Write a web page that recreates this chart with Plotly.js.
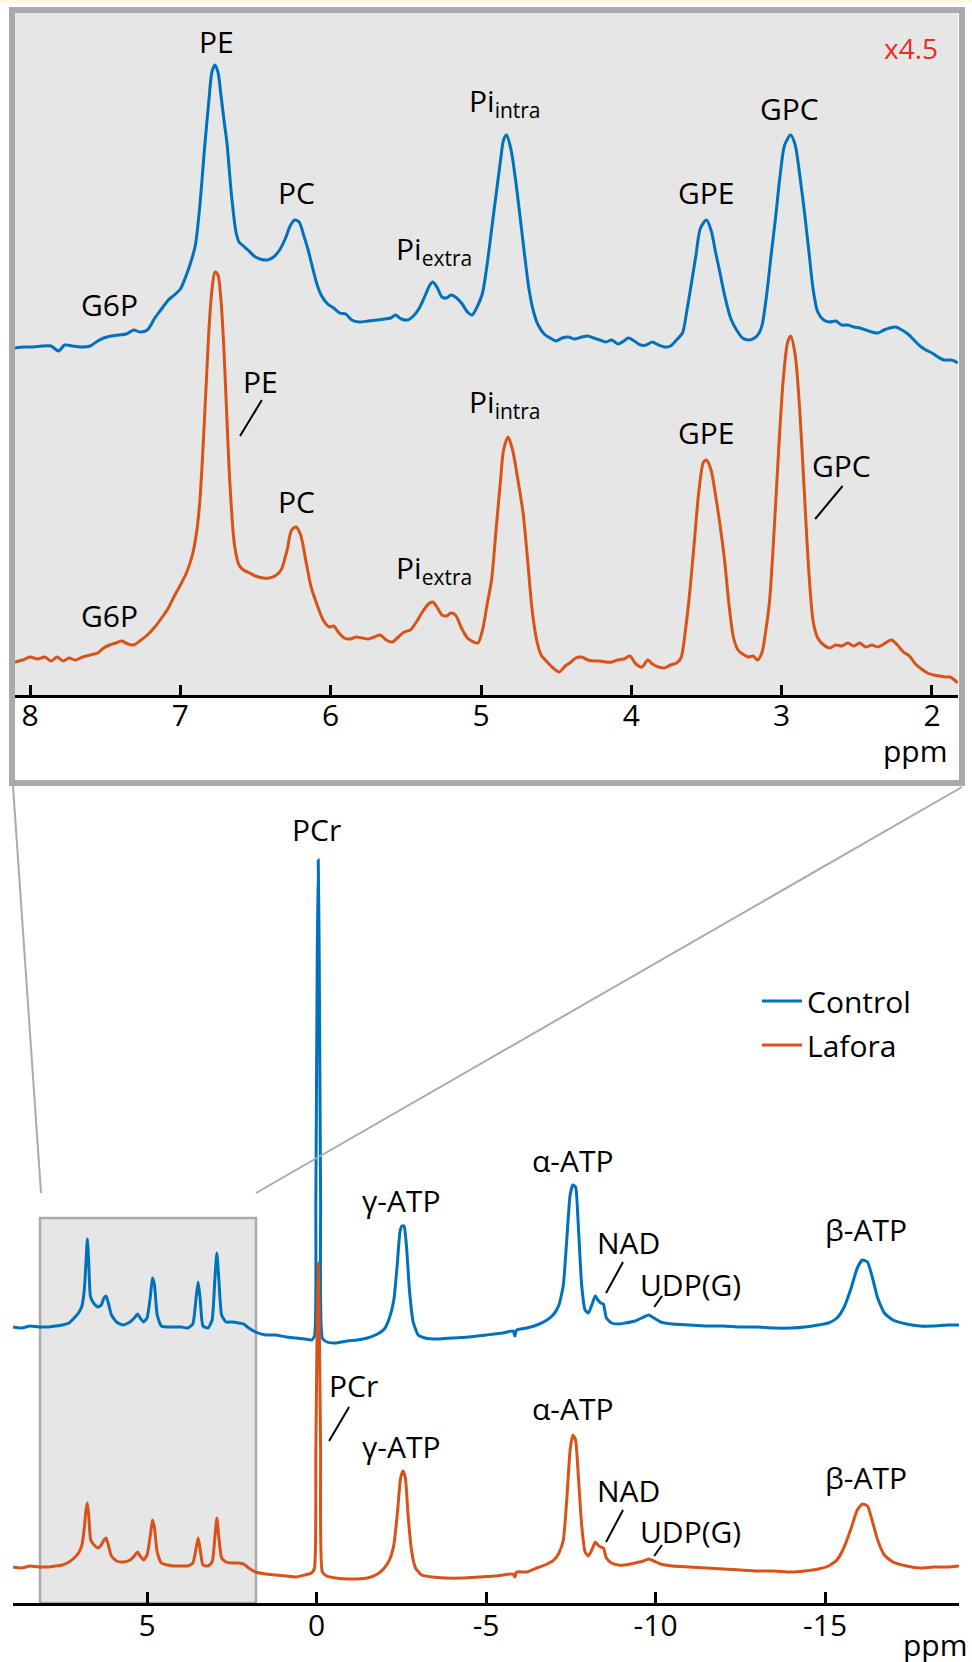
<!DOCTYPE html>
<html>
<head>
<meta charset="utf-8">
<script src="https://cdn.plot.ly/plotly-3.0.1.min.js"></script>
<style>html,body{margin:0;padding:0;background:#fff;}#chart{width:972px;height:1662px;}</style>
</head>
<body>
<div id="chart"></div>
<script>
// ---------- DATA ----------
// Inset (zoomed 8.1 – 1.8 ppm, x4.5), intensity in arbitrary units
const insetControlPpm = [
 8.10,8.04,7.98,7.92,7.86,7.81,7.77,7.72,7.66,7.60,
 7.55,7.51,7.46,7.41,7.36,7.31,7.27,7.22,7.17,7.12,
 7.08,7.04,7.00,6.96,6.93,6.90,6.87,6.84,6.81,6.79,
 6.77,6.75,6.73,6.71,6.69,6.66,6.63,6.61,6.58,6.55,
 6.51,6.47,6.42,6.38,6.34,6.30,6.27,6.24,6.21,6.18,
 6.15,6.12,6.09,6.06,6.02,5.98,5.94,5.90,5.86,5.81,
 5.75,5.69,5.64,5.60,5.57,5.53,5.49,5.45,5.41,5.37,
 5.34,5.32,5.29,5.26,5.23,5.20,5.17,5.13,5.09,5.06,
 5.02,4.99,4.96,4.93,4.90,4.87,4.85,4.83,4.80,4.77,
 4.74,4.71,4.68,4.65,4.62,4.58,4.54,4.50,4.46,4.42,
 4.38,4.33,4.29,4.25,4.21,4.17,4.13,4.09,4.05,4.02,
 3.98,3.94,3.90,3.86,3.82,3.78,3.74,3.70,3.66,3.63,
 3.60,3.57,3.54,3.50,3.47,3.44,3.41,3.38,3.34,3.30,
 3.26,3.22,3.18,3.15,3.13,3.10,3.07,3.04,3.01,2.98,
 2.94,2.91,2.88,2.85,2.82,2.79,2.76,2.72,2.68,2.64,
 2.60,2.56,2.52,2.48,2.44,2.40,2.36,2.32,2.28,2.24,
 2.20,2.16,2.12,2.08,2.04,2.00,1.96,1.92,1.88,1.85,
 1.83];
const insetControlI = [
 347,348,348,349,349,344,350,349,348,349,
 354,357,359,360,361,365,363,365,377,387,
 395,400,406,420,433,450,490,545,595,623,
 630,623,600,575,552,500,463,453,449,445,
 439,436,435,438,445,457,469,475,473,460,
 445,427,410,399,391,387,382,381,375,373,
 374,375,376,377,380,376,375,379,387,400,
 410,413,407,398,397,400,398,392,383,380,
 390,402,430,465,500,535,555,560,545,515,
 478,440,405,383,370,361,357,354,357,358,
 356,358,359,357,355,353,355,351,354,357,
 354,350,350,353,350,348,349,355,362,385,
 412,440,467,475,465,443,422,400,377,365,
 357,355,357,362,370,400,440,478,520,550,
 560,550,520,485,445,405,383,375,373,374,
 370,370,368,367,365,363,362,365,367,368,
 365,361,355,349,345,342,338,335,335,334,
 332];
const insetLaforaPpm = [
 8.10,8.05,8.00,7.95,7.90,7.86,7.82,7.78,7.74,7.70,
 7.65,7.60,7.55,7.51,7.47,7.43,7.39,7.35,7.31,7.27,
 7.22,7.17,7.12,7.08,7.04,7.00,6.96,6.92,6.89,6.87,
 6.85,6.83,6.81,6.79,6.77,6.75,6.73,6.71,6.69,6.67,
 6.64,6.61,6.58,6.54,6.50,6.45,6.41,6.37,6.33,6.29,
 6.26,6.23,6.20,6.16,6.13,6.09,6.05,6.01,5.98,5.95,
 5.91,5.87,5.83,5.79,5.75,5.71,5.67,5.63,5.59,5.55,
 5.51,5.47,5.43,5.39,5.35,5.32,5.29,5.26,5.23,5.20,
 5.17,5.13,5.09,5.05,5.02,4.99,4.96,4.93,4.90,4.87,
 4.85,4.82,4.79,4.76,4.72,4.69,4.66,4.63,4.60,4.56,
 4.52,4.48,4.44,4.41,4.37,4.33,4.29,4.25,4.21,4.17,
 4.13,4.09,4.05,4.01,3.97,3.93,3.89,3.86,3.82,3.78,
 3.74,3.70,3.67,3.64,3.61,3.58,3.55,3.52,3.50,3.47,
 3.44,3.41,3.38,3.35,3.32,3.29,3.26,3.22,3.19,3.16,
 3.13,3.11,3.08,3.05,3.02,2.99,2.96,2.94,2.91,2.88,
 2.85,2.82,2.79,2.76,2.72,2.68,2.64,2.60,2.56,2.52,
 2.48,2.44,2.40,2.36,2.32,2.27,2.23,2.19,2.15,2.11,
 2.07,2.03,1.99,1.95,1.91,1.88,1.85,1.83];
const insetLaforaI = [
 33,35,38,36,38,34,38,34,37,35,
 38,40,42,47,50,52,54,51,50,54,
 60,68,78,87,99,110,122,140,165,195,
 245,305,365,405,423,420,395,345,275,210,
 150,130,125,122,119,117,117,119,125,145,
 165,168,160,130,108,90,75,68,69,63,
 57,56,58,57,56,58,60,55,53,58,
 63,65,73,83,91,93,87,80,79,82,
 80,67,57,53,52,65,90,115,165,215,
 245,258,245,220,182,135,85,55,40,33,
 27,23,29,32,37,38,35,34,34,33,
 33,35,36,39,31,28,35,31,28,27,
 30,32,37,65,105,155,205,233,235,225,
 200,170,135,90,57,45,41,38,39,35,
 43,60,95,165,245,315,353,359,340,285,
 205,125,73,57,50,47,50,49,52,49,
 52,48,50,48,51,55,50,43,39,31,
 26,22,20,19,18,18,15,12];

// Full spectra (9 to -19 ppm)
const mainControlPpm = [
 8.95,8.70,8.45,8.20,7.95,7.70,7.50,7.30,7.15,7.02,
 6.92,6.85,6.80,6.76,6.72,6.67,6.58,6.45,6.35,6.27,
 6.21,6.14,6.05,5.90,5.70,5.50,5.35,5.28,5.20,5.10,
 5.00,4.90,4.84,4.78,4.70,4.58,4.40,4.20,4.00,3.80,
 3.65,3.55,3.49,3.43,3.35,3.20,3.08,3.00,2.94,2.88,
 2.80,2.67,2.50,2.30,2.15,2.00,1.80,1.50,1.20,0.90,
 0.60,0.35,0.15,0.06,0.02,-0.02,-0.05,-0.08,-0.12,-0.17,
 -0.30,-0.55,-0.90,-1.20,-1.50,-1.80,-2.00,-2.15,-2.28,-2.38,
 -2.46,-2.52,-2.58,-2.65,-2.74,-2.85,-3.00,-3.20,-3.60,-4.00,
 -4.50,-5.00,-5.50,-5.80,-5.85,-5.90,-6.20,-6.50,-6.80,-7.00,
 -7.15,-7.28,-7.38,-7.48,-7.56,-7.64,-7.72,-7.82,-7.92,-8.02,
 -8.12,-8.22,-8.30,-8.38,-8.46,-8.55,-8.70,-8.90,-9.10,-9.40,
 -9.65,-9.80,-9.95,-10.15,-10.50,-11.00,-11.50,-12.00,-12.50,-13.00,
 -13.50,-14.00,-14.40,-14.80,-15.10,-15.35,-15.55,-15.75,-15.95,-16.10,
 -16.25,-16.40,-16.55,-16.75,-17.00,-17.40,-17.80,-18.20,-18.60,-18.95];
const mainControlI = [
 276,275,277,276,276,277,278,280,285,290,
 297,313,341,364,341,307,300,296,298,305,
 307,300,288,281,278,281,286,289,285,281,
 285,307,325,318,288,277,276,276,276,275,
 279,306,321,303,277,275,283,323,350,323,
 288,281,281,280,279,275,271,268,268,266,
 265,264,263,267,403,643,743,643,403,265,
 261,260,262,263,265,269,274,285,303,338,
 371,377,377,358,313,281,268,265,264,265,
 266,268,270,272,267,273,275,278,283,289,
 298,318,363,408,418,416,378,318,293,290,
 298,307,303,300,299,285,280,279,280,282,
 286,288,285,281,279,278,277,277,276,276,
 275,275,276,278,280,285,295,313,335,343,
 341,325,305,290,283,279,277,277,278,278];
const mainLaforaPpm = [
 8.95,8.70,8.45,8.20,7.95,7.70,7.50,7.30,7.15,7.02,
 6.92,6.85,6.80,6.76,6.72,6.66,6.56,6.45,6.35,6.27,
 6.21,6.14,6.05,5.90,5.70,5.50,5.35,5.28,5.20,5.10,
 5.00,4.90,4.84,4.78,4.70,4.58,4.40,4.20,4.00,3.80,
 3.65,3.55,3.49,3.43,3.35,3.20,3.08,3.00,2.94,2.88,
 2.80,2.67,2.50,2.30,2.15,2.00,1.80,1.50,1.20,0.90,
 0.60,0.35,0.15,0.06,0.02,-0.02,-0.05,-0.08,-0.12,-0.17,
 -0.30,-0.55,-0.90,-1.20,-1.50,-1.80,-2.00,-2.15,-2.28,-2.38,
 -2.48,-2.55,-2.62,-2.70,-2.80,-2.92,-3.10,-3.40,-3.80,-4.30,
 -4.80,-5.30,-5.80,-5.85,-5.90,-6.20,-6.50,-6.80,-7.00,-7.15,
 -7.28,-7.38,-7.48,-7.56,-7.64,-7.72,-7.82,-7.92,-8.02,-8.12,
 -8.22,-8.30,-8.38,-8.46,-8.55,-8.70,-8.90,-9.10,-9.40,-9.65,
 -9.80,-9.95,-10.15,-10.50,-11.00,-11.50,-12.00,-12.50,-13.00,-13.50,
 -14.00,-14.40,-14.80,-15.10,-15.35,-15.55,-15.75,-15.95,-16.10,-16.25,
 -16.40,-16.55,-16.75,-17.00,-17.40,-17.80,-18.20,-18.60,-18.95];
const mainLaforaI = [
 36,35,37,36,36,37,38,41,45,50,
 58,75,93,100,88,63,58,55,58,63,
 65,58,47,42,41,43,48,51,47,43,
 48,68,83,75,51,40,38,37,37,37,
 40,55,65,53,38,37,41,65,85,65,
 45,41,40,40,39,35,31,29,28,27,
 26,28,30,35,153,283,340,283,153,31,
 27,25,24,24,25,29,35,43,58,88,
 125,132,125,88,53,35,28,26,25,25,
 26,27,29,26,31,31,35,39,43,50,
 63,103,153,168,163,128,78,51,47,53,
 61,58,56,55,45,40,38,38,40,42,
 44,42,39,37,36,35,34,33,32,32,
 31,32,34,37,43,55,73,93,99,97,
 81,63,48,41,37,35,36,36,37];

const seriesNames = ['Control', 'Lafora'];
const insetTicks = [8, 7, 6, 5, 4, 3, 2];
const mainTicks = [5, 0, -5, -10, -15];
const mainTickText = ['5', '0', '-5', '-10', '-15'];
const insetRange = [8.10, 1.827];
const mainRange = [8.953, -18.95];
const zoomBox = [8.156, 1.785];

// peak labels: [text, ppm, intensity]
const insetLabelsControl = [['G6P',7.47,391],['PE',6.76,654],['PC',6.23,503],['Pi<sub>extra</sub>',5.31,445],['Pi<sub>intra</sub>',4.84,593],['GPE',3.50,503],['GPC',2.95,587]];
const insetLabelsLafora = [['G6P',7.47,80],['PE',6.47,314],['PC',6.23,194],['Pi<sub>extra</sub>',5.31,126],['Pi<sub>intra</sub>',4.84,292],['GPE',3.50,263],['GPC',2.60,230]];
const mainLabelsControl = [['PCr',-0.01,774],['γ-ATP',-2.52,403],['α-ATP',-7.57,443],['NAD',-9.19,361],['UDP(G)',-11.02,319],['β-ATP',-16.21,374]];
const mainLabelsLafora = [['PCr',-1.08,218],['γ-ATP',-2.52,157],['α-ATP',-7.57,195],['NAD',-9.19,113],['UDP(G)',-11.02,72],['β-ATP',-16.21,126]];
// leader lines: [ppm0, i0, ppm1, i1]
const insetLeaders = [[6.458,295,6.603,259],[2.595,209,2.777,176]];
const mainLeaders = [[-9.04,341,-8.54,310],[-10.19,307,-9.96,296],[-0.96,196,-0.37,162],[-9.04,93,-8.54,61],[-10.19,58,-9.96,47]];

// ---------- STYLE / LAYOUT ----------
const W = 972, H = 1662;
const BLUE = '#0072BD', ORANGE = '#D95319';
const FONT = 'Open Sans, Noto Sans, sans-serif';
const fx = v => v / W;
const fy = v => 1 - v / H;

const traces = [
  {x: insetControlPpm, y: insetControlI, xaxis: 'x', yaxis: 'y', mode: 'lines', showlegend: false,
   line: {color: BLUE, width: 3, shape: 'spline', smoothing: 0.8}, hoverinfo: 'skip'},
  {x: insetLaforaPpm, y: insetLaforaI, xaxis: 'x', yaxis: 'y', mode: 'lines', showlegend: false,
   line: {color: ORANGE, width: 3, shape: 'spline', smoothing: 0.8}, hoverinfo: 'skip'},
  {x: mainControlPpm, y: mainControlI, xaxis: 'x2', yaxis: 'y2', mode: 'lines', name: seriesNames[0],
   legendgroup: 'c', line: {color: BLUE, width: 3, shape: 'spline', smoothing: 0.5}, hoverinfo: 'skip'},
  {x: mainLaforaPpm, y: mainLaforaI, xaxis: 'x2', yaxis: 'y2', mode: 'lines', name: seriesNames[1],
   legendgroup: 'l', line: {color: ORANGE, width: 3, shape: 'spline', smoothing: 0.5}, hoverinfo: 'skip'}
];

const axisCommon = {
  showline: true, linecolor: '#000', linewidth: 3, ticks: 'inside', ticklen: 10, tickwidth: 3,
  tickcolor: '#000', showgrid: false, zeroline: false, fixedrange: true,
  tickfont: {family: FONT, size: 30, color: '#000'}
};

const annotations = [];
function addLabels(list, xr, yr) {
  list.forEach(l => annotations.push({text: l[0], x: l[1], y: l[2], xref: xr, yref: yr,
    showarrow: false, xanchor: 'center', yanchor: 'middle', font: {family: FONT, size: 30, color: '#000'}}));
}
addLabels(insetLabelsControl, 'x', 'y');
addLabels(insetLabelsLafora, 'x', 'y');
addLabels(mainLabelsControl, 'x2', 'y2');
addLabels(mainLabelsLafora, 'x2', 'y2');
annotations.push({text: 'x4.5', xref: 'paper', yref: 'paper', x: fx(940), y: fy(48), xanchor: 'right', yanchor: 'middle',
  showarrow: false, font: {family: FONT, size: 28, color: '#ED2A24'}});
annotations.push({text: 'ppm', xref: 'paper', yref: 'paper', x: fx(949), y: fy(750), xanchor: 'right', yanchor: 'middle',
  showarrow: false, font: {family: FONT, size: 30, color: '#000'}});
annotations.push({text: 'ppm', xref: 'paper', yref: 'paper', x: fx(969), y: fy(1644), xanchor: 'right', yanchor: 'middle',
  showarrow: false, font: {family: FONT, size: 30, color: '#000'}});

const shapes = [
  {type: 'rect', xref: 'paper', yref: 'paper', x0: 0, x1: 1, y0: fy(3), y1: 1, fillcolor: '#FFF8E1', line: {width: 0}, layer: 'below'},
  {type: 'rect', xref: 'x domain', yref: 'y domain', x0: 0, x1: 1, y0: 0, y1: 1, fillcolor: '#E6E6E6', line: {width: 0}, layer: 'below'},
  {type: 'rect', xref: 'paper', yref: 'paper', x0: fx(12), x1: fx(962), y0: fy(783), y1: fy(10),
   fillcolor: 'rgba(0,0,0,0)', line: {color: '#AAAAAA', width: 6}, layer: 'above'},
  {type: 'line', xref: 'paper', yref: 'paper', x0: fx(13), y0: fy(786), x1: fx(41), y1: fy(1193), line: {color: '#AAAAAA', width: 2}},
  {type: 'line', xref: 'paper', yref: 'paper', x0: fx(962), y0: fy(787), x1: fx(256), y1: fy(1193), line: {color: '#AAAAAA', width: 2}},
  {type: 'rect', xref: 'x2', yref: 'y2', x0: zoomBox[0], x1: zoomBox[1], y0: 0, y1: 385,
   fillcolor: '#E6E6E6', line: {color: '#AAAAAA', width: 2.5}, layer: 'below'}
];
insetLeaders.forEach(s => shapes.push({type: 'line', xref: 'x', yref: 'y', x0: s[0], y0: s[1], x1: s[2], y1: s[3], line: {color: '#000', width: 2}}));
mainLeaders.forEach(s => shapes.push({type: 'line', xref: 'x2', yref: 'y2', x0: s[0], y0: s[1], x1: s[2], y1: s[3], line: {color: '#000', width: 2}}));

const layout = {
  width: W, height: H,
  margin: {l: 0, r: 0, t: 0, b: 0, pad: 0},
  paper_bgcolor: '#fff', plot_bgcolor: 'rgba(0,0,0,0)',
  font: {family: FONT, size: 30, color: '#000'},
  showlegend: true,
  legend: {x: fx(757), y: fy(975), xanchor: 'left', yanchor: 'top', bgcolor: 'rgba(0,0,0,0)',
    font: {family: FONT, size: 30, color: '#000'}, itemwidth: 40, traceorder: 'grouped', tracegroupgap: 2},
  xaxis: Object.assign({}, axisCommon, {domain: [fx(15), fx(958)], range: insetRange, anchor: 'y',
    tickvals: insetTicks, ticklabelstandoff: -8}),
  yaxis: {domain: [fy(695), fy(13)], range: [0, 682], visible: false, fixedrange: true, anchor: 'x'},
  xaxis2: Object.assign({}, axisCommon, {domain: [fx(13), fx(959)], range: mainRange, anchor: 'y2',
    tickvals: mainTicks, ticktext: mainTickText, ticklen: 11, ticklabelstandoff: -6}),
  yaxis2: {domain: [fy(1603), fy(800)], range: [0, 803], visible: false, fixedrange: true, anchor: 'x2'},
  annotations: annotations,
  shapes: shapes
};

Plotly.newPlot('chart', traces, layout, {displayModeBar: false, staticPlot: true});
</script>
</body>
</html>
